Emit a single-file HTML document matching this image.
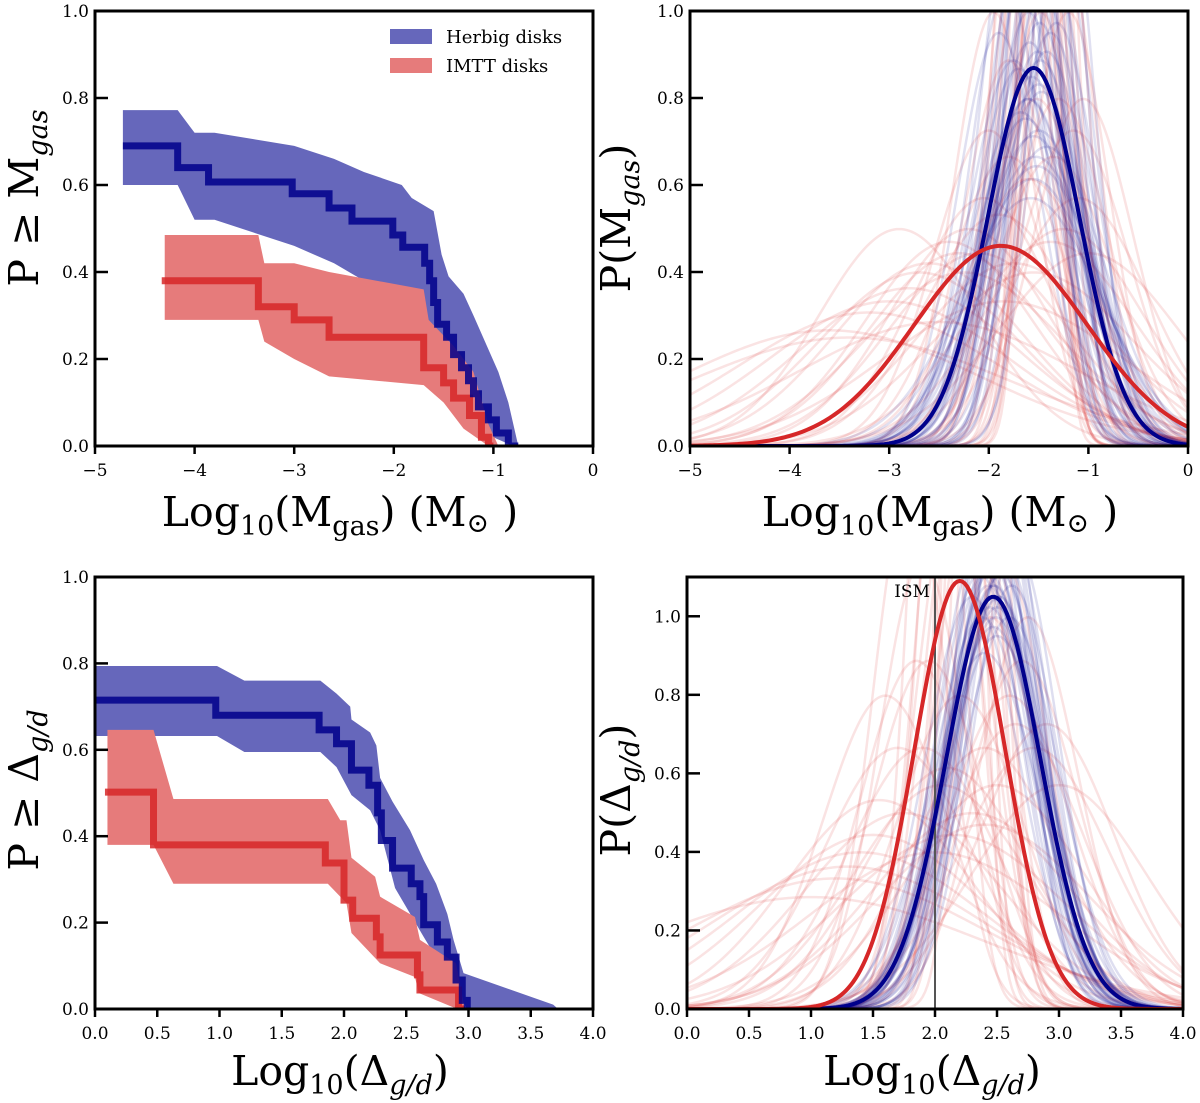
<!DOCTYPE html>
<html><head><meta charset="utf-8">
<style>
html,body{margin:0;padding:0;background:#fff;}
svg{display:block;font-family:"DejaVu Serif","Liberation Serif",serif;}
</style></head>
<body>
<svg id="fig" width="1200" height="1103" viewBox="0 0 1200 1103" xmlns="http://www.w3.org/2000/svg"></svg>
<script>
// ---------- DATA ----------
const tlBlueStep = [[-4.72,0.69],[-4.17,0.64],[-3.86,0.607],[-3.02,0.58],[-2.65,0.547],[-2.42,0.517],[-2.01,0.485],[-1.91,0.457],[-1.69,0.42],[-1.64,0.38],[-1.6,0.33],[-1.56,0.28],[-1.47,0.25],[-1.4,0.21],[-1.32,0.18],[-1.25,0.15],[-1.2,0.12],[-1.15,0.09],[-1.05,0.06],[-0.97,0.03],[-0.85,0.0],[-0.75,0.0]];
const tlBlueUpper = [[-4.72,0.772],[-4.17,0.772],[-4.0,0.72],[-3.8,0.72],[-3.0,0.69],[-2.6,0.66],[-2.3,0.63],[-1.92,0.6],[-1.82,0.57],[-1.6,0.54],[-1.52,0.44],[-1.45,0.39],[-1.3,0.35],[-1.2,0.3],[-0.95,0.17],[-0.85,0.1],[-0.75,0.0]];
const tlBlueLower = [[-4.72,0.6],[-4.17,0.6],[-4.0,0.52],[-3.8,0.52],[-3.0,0.46],[-2.6,0.42],[-2.3,0.38],[-2.0,0.34],[-1.85,0.30],[-1.65,0.27],[-1.55,0.2],[-1.3,0.1],[-1.1,0.03],[-0.8,0.0]];
const tlRedStep = [[-4.33,0.38],[-3.36,0.32],[-3.0,0.29],[-2.65,0.25],[-1.7,0.18],[-1.5,0.145],[-1.4,0.11],[-1.24,0.07],[-1.12,0.02],[-1.05,0.0],[-1.0,0.0]];
const tlRedUpper = [[-4.3,0.485],[-3.36,0.485],[-3.3,0.42],[-3.0,0.42],[-2.65,0.40],[-1.7,0.36],[-1.65,0.29],[-1.4,0.23],[-1.2,0.17],[-1.05,0.05],[-0.95,0.0]];
const tlRedLower = [[-4.3,0.29],[-3.36,0.29],[-3.3,0.24],[-3.0,0.2],[-2.65,0.16],[-1.7,0.14],[-1.5,0.1],[-1.3,0.04],[-1.05,0.0]];
const blBlueStep = [[0,0.715],[0.97,0.68],[1.8,0.646],[1.94,0.614],[2.06,0.553],[2.2,0.518],[2.27,0.454],[2.3,0.39],[2.39,0.326],[2.54,0.29],[2.61,0.26],[2.64,0.195],[2.75,0.155],[2.83,0.12],[2.9,0.067],[2.95,0.02],[2.99,0.0],[3.0,0.0]];
const blBlueUpper = [[0,0.794],[0.98,0.794],[1.2,0.76],[1.81,0.76],[1.94,0.73],[2.05,0.70],[2.06,0.67],[2.21,0.64],[2.26,0.61],[2.29,0.535],[2.39,0.48],[2.53,0.414],[2.64,0.345],[2.74,0.29],[2.83,0.22],[2.88,0.16],[2.96,0.083],[3.68,0.01],[3.72,0.0]];
const blBlueLower = [[0,0.632],[0.98,0.632],[1.2,0.595],[1.81,0.595],[1.94,0.56],[2.06,0.495],[2.21,0.46],[2.29,0.414],[2.41,0.28],[2.64,0.167],[2.99,0.0]];
const blRedStep = [[0.08,0.502],[0.47,0.38],[1.85,0.338],[2.0,0.252],[2.07,0.21],[2.26,0.167],[2.29,0.125],[2.59,0.079],[2.61,0.044],[2.92,0.0],[2.97,0.0]];
const blRedUpper = [[0.1,0.646],[0.47,0.646],[0.63,0.486],[1.87,0.486],[1.97,0.437],[2.02,0.437],[2.06,0.35],[2.25,0.306],[2.29,0.26],[2.57,0.213],[2.61,0.16],[2.9,0.106],[2.97,0.0]];
const blRedLower = [[0.1,0.38],[0.47,0.38],[0.63,0.29],[1.87,0.29],[2.02,0.245],[2.06,0.176],[2.29,0.106],[2.57,0.074],[2.6,0.037],[2.91,0.0]];

const trBlueMain = [-1.55, 0.459];
const trRedMain = [-1.88, 0.867];
const trBlueMu = [-1.9,-1.82,-1.75,-1.7,-1.66,-1.62,-1.6,-1.58,-1.55,-1.53,-1.5,-1.48,-1.46,-1.44,-1.42,-1.4,-1.36,-1.32,-1.28,-1.24,-1.6,-1.7,-1.5,-1.56,-1.45,-1.64,-1.38,-1.78,-1.3,-1.52,-1.58,-1.48,-1.68,-1.42,-1.54,-1.57,-1.51,-1.61,-1.49,-1.55,-1.53,-1.59,-1.47,-1.63,-1.56];
const trBlueSig = [0.42,0.38,0.45,0.36,0.32,0.28,0.4,0.3,0.26,0.34,0.48,0.3,0.38,0.27,0.44,0.33,0.36,0.41,0.35,0.3,0.5,0.46,0.55,0.24,0.29,0.37,0.42,0.33,0.27,0.62,0.7,0.45,0.52,0.58,0.38,0.47,0.44,0.5,0.41,0.56,0.6,0.43,0.49,0.53,0.65];
const trRedMu = [-3.6,-3.2,-3.0,-2.8,-2.6,-2.4,-2.3,-2.2,-2.1,-2.0,-1.9,-1.8,-1.7,-1.6,-1.5,-1.45,-1.4,-1.35,-1.3,-1.25,-1.2,-1.1,-1.0,-2.5,-2.9,-1.75,-1.55,-1.65,-2.05,-1.15,-3.4,-2.7,-1.85,-1.42,-1.3,-1.05,-2.25,-1.6,-1.95,-1.38,-1.5,-1.55,-1.45,-1.7,-1.35,-1.6,-1.48,-1.25,-1.8,-1.52];
const trRedSig = [1.5,1.3,1.2,1.1,0.95,0.85,0.9,0.8,0.9,0.55,0.75,0.45,0.3,0.22,0.18,0.35,0.25,0.6,0.5,0.8,0.4,0.7,0.9,1.4,0.8,0.95,1.0,0.3,0.7,0.55,1.6,1.0,1.2,0.2,0.28,0.5,1.0,0.65,0.4,0.85,0.15,0.2,0.16,0.25,0.22,0.3,0.4,0.35,0.6,0.5];

const brBlueMain = [2.47, 0.38];
const brRedMain = [2.2, 0.366];
const brBlueMu = [2.3,2.35,2.38,2.4,2.42,2.44,2.45,2.47,2.48,2.5,2.52,2.54,2.55,2.57,2.6,2.62,2.65,2.43,2.5,2.56,2.4,2.6,2.46,2.52,2.36,2.45,2.48,2.5,2.44,2.49,2.46,2.51,2.47,2.43,2.53];
const brBlueSig = [0.38,0.34,0.4,0.36,0.33,0.39,0.35,0.37,0.32,0.34,0.38,0.36,0.31,0.35,0.33,0.37,0.34,0.3,0.42,0.29,0.44,0.4,0.28,0.3,0.36,0.38,0.37,0.39,0.36,0.4,0.35,0.38,0.41,0.37,0.36];
const brRedMu = [1.0,1.2,1.4,1.5,1.6,1.7,1.8,1.9,1.95,2.0,2.05,2.1,2.2,2.25,2.3,2.35,2.4,2.5,2.6,2.7,2.8,2.9,3.0,1.3,1.75,2.15,2.45,2.55,2.0,1.85,2.3,2.65,2.1,1.55,2.4,2.2,2.75,1.9,2.2,2.3,2.1,2.4,2.15,2.25];
const brRedSig = [1.4,1.2,1.0,0.9,0.5,0.6,0.3,0.35,0.45,0.2,0.7,0.25,0.5,0.15,0.8,0.18,0.6,0.7,0.5,0.45,0.6,0.55,0.7,1.1,0.8,0.9,0.4,0.35,1.0,0.45,0.3,0.55,0.65,0.75,0.85,0.28,0.4,0.6,0.15,0.2,0.22,0.17,0.3,0.25];

const tlXTicks = [-5,-4,-3,-2,-1,0];
const tlXTickLabels = ["−5","−4","−3","−2","−1","0"];
const yTicksP = [0,0.2,0.4,0.6,0.8,1.0];
const yTickLabelsP = ["0.0","0.2","0.4","0.6","0.8","1.0"];
const brYTicks = [0,0.2,0.4,0.6,0.8,1.0];
const bXTicks = [0,0.5,1,1.5,2,2.5,3,3.5,4];
const bXTickLabels = ["0.0","0.5","1.0","1.5","2.0","2.5","3.0","3.5","4.0"];

// ---------- DRAW ----------
const NS = "http://www.w3.org/2000/svg";
const svg = document.getElementById("fig");
function el(tag, attrs, parent) {
  const e = document.createElementNS(NS, tag);
  for (const k in attrs) e.setAttribute(k, attrs[k]);
  (parent || svg).appendChild(e);
  return e;
}
const BLUE = "#00008b", BLUEF = "#6667bb", RED = "#d62728", REDF = "#e67b7b";

function makeAxes(name, x0, x1, y0, y1, xmin, xmax, ymin, ymax) {
  const g = el("g", {});
  
  
  const clipId = name + "-clip";
  const cp = el("clipPath", {id: clipId}, g);
  el("rect", {x: x0, y: y0, width: x1 - x0, height: y1 - y0}, cp);
  const plot = el("g", {"clip-path": "url(#" + clipId + ")"}, g);
  
  
  const sx = v => x0 + (v - xmin) / (xmax - xmin) * (x1 - x0);
  const sy = v => y1 - (v - ymin) / (ymax - ymin) * (y1 - y0);
  return {g, plot, sx, sy, x0, x1, y0, y1};
}
function frame(ax, xt, xtl, yt, ytl) {
  const f = el("rect", {x: ax.x0, y: ax.y0, width: ax.x1 - ax.x0, height: ax.y1 - ax.y0, fill: "none", stroke: "#000", "stroke-width": 3}, ax.g);
  
  
  const xg = el("g", {}, ax.g);
  
  
  xt.forEach((v, i) => {
    const X = ax.sx(v);
    el("line", {x1: X, x2: X, y1: ax.y1, y2: ax.y1 + 8, stroke: "#000", "stroke-width": 2.5}, xg);
    const t = el("text", {x: X, y: ax.y1 + 30, "text-anchor": "middle", "font-size": 17}, xg);
    t.textContent = xtl[i];
  });
  const yg = el("g", {}, ax.g);
  
  
  yt.forEach((v, i) => {
    const Y = ax.sy(v);
    el("line", {x1: ax.x0, x2: ax.x0 + 13, y1: Y, y2: Y, stroke: "#000", "stroke-width": 2.5}, yg);
    const t = el("text", {x: ax.x0 - 6, y: Y + 6, "text-anchor": "end", "font-size": 17}, yg);
    t.textContent = ytl[i];
  });
}
function band(ax, up, lo, color, name) {
  const pts = up.map(p => ax.sx(p[0]) + "," + ax.sy(p[1])).concat(lo.slice().reverse().map(p => ax.sx(p[0]) + "," + ax.sy(p[1])));
  const p = el("polygon", {points: pts.join(" "), fill: color, stroke: "none"}, ax.plot);
  
  
}
function step(ax, data, color, name) {
  let d = "M" + ax.sx(data[0][0]) + "," + ax.sy(data[0][1]);
  for (let i = 1; i < data.length; i++) {
    d += " H" + ax.sx(data[i][0]) + " V" + ax.sy(data[i][1]);
  }
  const p = el("path", {d, fill: "none", stroke: color, "stroke-width": 7, opacity: 0.85}, ax.plot);
  
  
}
function gauss(ax, mu, s, xmin, xmax, color, width, op, name) {
  let d = "";
  const n = 200;
  for (let i = 0; i <= n; i++) {
    const x = xmin + (xmax - xmin) * i / n;
    const y = Math.exp(-0.5 * ((x - mu) / s) ** 2) / (s * Math.sqrt(2 * Math.PI));
    d += (i ? " L" : "M") + ax.sx(x).toFixed(2) + "," + Math.max(ax.sy(y), ax.y0 - 50).toFixed(2);
  }
  const p = el("path", {d, fill: "none", stroke: color, "stroke-width": width, "stroke-opacity": op}, ax.plot);
  
  
}
function label(x, y, rot, html, size, name) {
  const t = el("text", {x, y, "text-anchor": "middle", "font-size": size, transform: rot ? `rotate(-90 ${x} ${y})` : "", "xml:space": "preserve"});
  t.innerHTML = html;
  
  
}
const XT_MGAS = 'Log<tspan font-size="27" dy="9">10</tspan><tspan dy="-9">(M</tspan><tspan font-size="27" dy="9">gas</tspan><tspan dy="-9">) (M</tspan><tspan font-size="27" dy="6">⊙</tspan><tspan dy="-6"> )</tspan>';
const XT_GD = 'Log<tspan font-size="27" dy="9">10</tspan><tspan dy="-9">(Δ</tspan><tspan font-size="27" font-style="italic" dy="9">g/d</tspan><tspan dy="-9">)</tspan>';

// Top-left
const tl = makeAxes("cumulative-mgas-panel", 95, 593, 11, 446, -5, 0, 0, 1);
band(tl, tlBlueUpper, tlBlueLower, BLUEF, "herbig-confidence-band");
band(tl, tlRedUpper, tlRedLower, REDF, "imtt-confidence-band");
step(tl, tlRedStep, RED, "imtt-step-line");
step(tl, tlBlueStep, BLUE, "herbig-step-line");
frame(tl, tlXTicks, tlXTickLabels, yTicksP, yTickLabelsP);
const lg = el("g", {});


const lr1 = el("rect", {x: 390, y: 29, width: 42, height: 15, fill: BLUEF}, lg);


const lt1 = el("text", {x: 446, y: 43, "font-size": 18}, lg); lt1.textContent = "Herbig disks";


const lr2 = el("rect", {x: 390, y: 58, width: 42, height: 15, fill: REDF}, lg);


const lt2 = el("text", {x: 446, y: 72, "font-size": 18}, lg); lt2.textContent = "IMTT disks";


label(340, 526, false, XT_MGAS, 41, "x-axis-title-top-left");
label(38, 198, true, 'P ≥ M<tspan font-size="27" font-style="italic" dy="9">gas</tspan>', 41, "y-axis-title-top-left");

// Top-right
const tr = makeAxes("pdf-mgas-panel", 690, 1188, 11, 446, -5, 0, 0, 1);
trRedMu.forEach((m, i) => gauss(tr, m, trRedSig[i], -5, 0, RED, 2.5, 0.13, "imtt-posterior-sample"));
trBlueMu.forEach((m, i) => gauss(tr, m, trBlueSig[i], -5, 0, BLUE, 2.5, 0.12, "herbig-posterior-sample"));
gauss(tr, trBlueMain[0], trBlueMain[1], -5, 0, BLUE, 4, 1, "herbig-mean-curve");
gauss(tr, trRedMain[0], trRedMain[1], -5, 0, RED, 4, 1, "imtt-mean-curve");
frame(tr, tlXTicks, tlXTickLabels, yTicksP, yTickLabelsP);
label(940, 526, false, XT_MGAS, 41, "x-axis-title-top-right");
label(630, 218, true, 'P(M<tspan font-size="27" font-style="italic" dy="9">gas</tspan><tspan dy="-9">)</tspan>', 41, "y-axis-title-top-right");

// Bottom-left
const bl = makeAxes("cumulative-gas-to-dust-panel", 95, 593, 577, 1009, 0, 4, 0, 1);
band(bl, blBlueUpper, blBlueLower, BLUEF, "herbig-confidence-band");
band(bl, blRedUpper, blRedLower, REDF, "imtt-confidence-band");
step(bl, blRedStep, RED, "imtt-step-line");
step(bl, blBlueStep, BLUE, "herbig-step-line");
frame(bl, bXTicks, bXTickLabels, yTicksP, yTickLabelsP);
label(340, 1085, false, XT_GD, 41, "x-axis-title-bottom-left");
label(38, 790, true, 'P  ≥  Δ<tspan font-size="27" font-style="italic" dy="9">g/d</tspan>', 41, "y-axis-title-bottom-left");

// Bottom-right
const br = makeAxes("pdf-gas-to-dust-panel", 687, 1183, 577, 1009, 0, 4, 0, 1.1);
brRedMu.forEach((m, i) => gauss(br, m, brRedSig[i], 0, 4, RED, 2.5, 0.13, "imtt-posterior-sample"));
brBlueMu.forEach((m, i) => gauss(br, m, brBlueSig[i], 0, 4, BLUE, 2.5, 0.13, "herbig-posterior-sample"));
const ism = el("line", {x1: br.sx(2), x2: br.sx(2), y1: 577, y2: 1009, stroke: "#555", "stroke-width": 2}, br.plot);


gauss(br, brBlueMain[0], brBlueMain[1], 0, 4, BLUE, 4, 1, "herbig-mean-curve");
gauss(br, brRedMain[0], brRedMain[1], 0, 4, RED, 4, 1, "imtt-mean-curve");
frame(br, bXTicks, bXTickLabels, brYTicks, yTickLabelsP);
const ismt = el("text", {x: br.sx(2) - 5, y: 597, "text-anchor": "end", "font-size": 17});
ismt.textContent = "ISM";


label(932, 1085, false, XT_GD, 41, "x-axis-title-bottom-right");
label(630, 790, true, 'P(Δ<tspan font-size="27" font-style="italic" dy="9">g/d</tspan><tspan dy="-9">)</tspan>', 41, "y-axis-title-bottom-right");
</script>
</body></html>
